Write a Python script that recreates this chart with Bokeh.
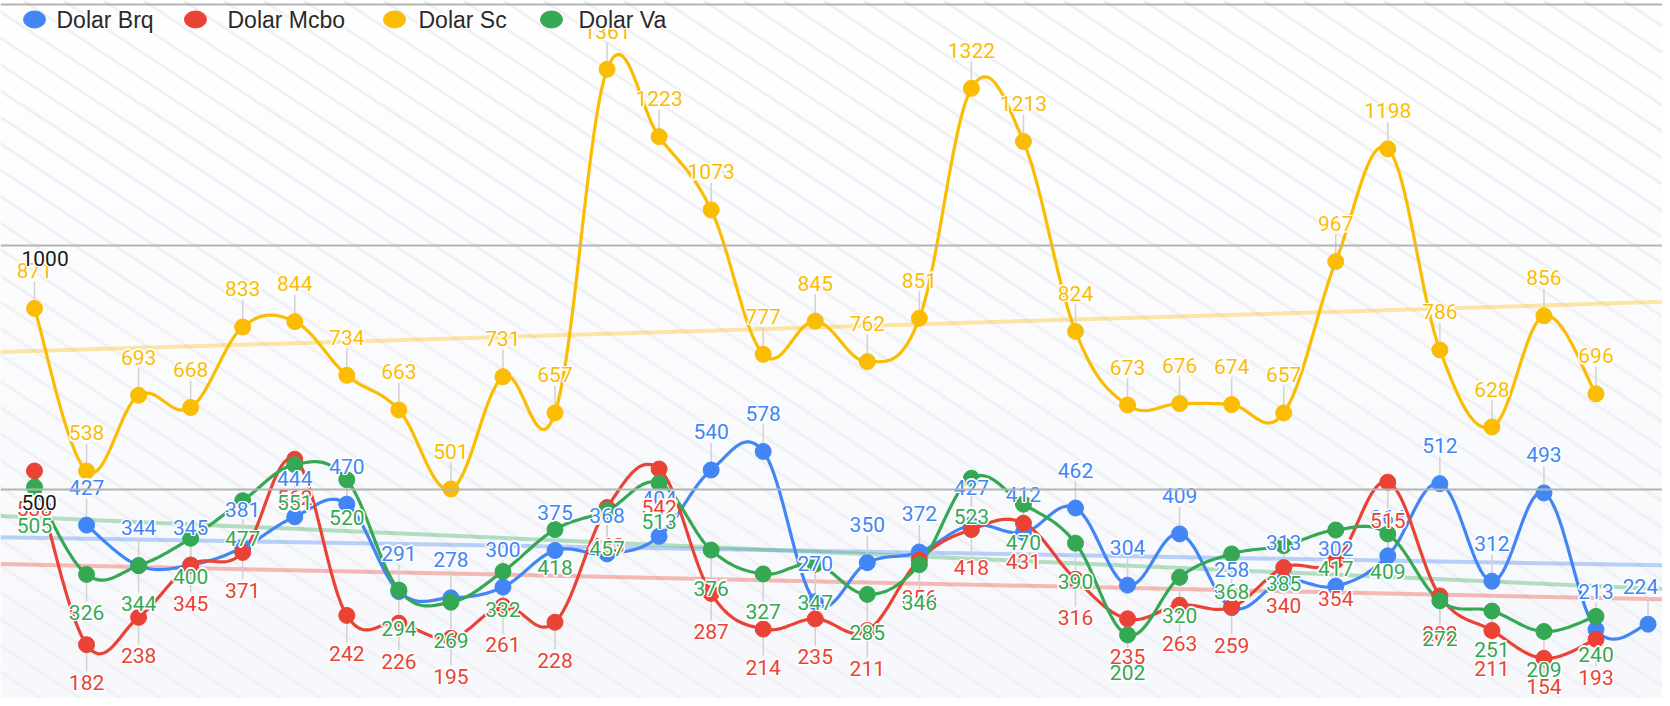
import numpy as np
from bokeh.plotting import figure
from bokeh.models import Range1d, Span
from bokeh.core.properties import value
from bokeh.embed import file_html
from bokeh.resources import INLINE

# ---------------- data ----------------
series_names = ["Dolar Brq", "Dolar Mcbo", "Dolar Sc", "Dolar Va"]
colors = ["#4285F4", "#EA4335", "#FBBC04", "#34A853"]

brq_x = list(range(1, 32))
brq = [427, 344, 345, 381, 444, 470, 291, 278, 300, 375, 368, 404, 540, 578, 270,
       350, 372, 427, 412, 462, 304, 409, 258, 313, 302, 364, 512, 312, 493, 213, 224]

mcbo_x = list(range(0, 31))
mcbo = [538, 182, 238, 345, 371, 562, 242, 226, 195, 261, 228, 463, 542, 287, 214,
        235, 211, 356, 418, 431, 316, 235, 263, 259, 340, 354, 515, 282, 211, 154, 193]

sc_x = list(range(0, 31))
sc = [871, 538, 693, 668, 833, 844, 734, 663, 501, 731, 657, 1361, 1223, 1073, 777,
      845, 762, 851, 1322, 1213, 824, 673, 676, 674, 657, 967, 1198, 786, 628, 856, 696]

va_x = list(range(0, 31))
va = [505, 326, 344, 400, 477, 551, 520, 294, 269, 332, 418, 457, 513, 376, 327,
      347, 285, 346, 523, 470, 390, 202, 320, 368, 385, 417, 409, 272, 251, 209, 240]

grid_values = [500, 1000]
grid_labels = ["500", "1000"]

# label side: +1 above, -1 below
label_side = [1, -1, 1, -1]

# ---------------- figure ----------------
W, H = 1662, 698
STEP = 52.05           # px per category
X0 = -34.0 / STEP
X1 = X0 + W / STEP
ppy = 244.0 / 500.0     # px per value unit
Y1 = 1000 + 245.0 / ppy
Y0 = Y1 - H / ppy
ppx = STEP

p = figure(width=W, height=H, x_range=Range1d(X0, X1), y_range=Range1d(Y0, Y1),
           output_backend="svg", toolbar_location=None, min_border=0,
           x_axis_location=None, y_axis_location=None)
p.outline_line_color = None
p.background_fill_color = "white"
p.border_fill_color = "white"


def sx2x(s):
    return X0 + s / ppx


def sy2y(s):
    return Y1 - s / ppy


# subtle vertical gradient background
N = 64
img = np.zeros((N, 1), dtype=np.uint32)
v = img.view(dtype=np.uint8).reshape((N, 1, 4))
for i in range(N):
    t = i / (N - 1)  # 0 bottom -> 1 top
    v[i, 0, 0] = int(247 + 8 * t)
    v[i, 0, 1] = int(248 + 7 * t)
    v[i, 0, 2] = int(252 + 3 * t)
    v[i, 0, 3] = 255
p.image_rgba(image=[img], x=X0, y=Y0, dw=X1 - X0, dh=Y1 - Y0)

# diagonal stripes (decoration), defined in screen space
slope = 0.66
step = 40
sxs, sys_ = [], []
for c in range(-int(H / slope) - step, W + step, step):
    sxs.append([sx2x(c), sx2x(c + H / slope)])
    sys_.append([sy2y(0), sy2y(H)])
p.multi_line(xs=sxs, ys=sys_, line_color="#f0f1f5", line_width=3)

# gridlines
for gv in grid_values:
    p.add_layout(Span(location=gv, dimension="width", line_color="#b4b4b4", line_width=2))
p.add_layout(Span(location=sy2y(4), dimension="width", line_color="#b4b4b4", line_width=2))

all_x = [brq_x, mcbo_x, sc_x, va_x]
all_y = [brq, mcbo, sc, va]

# trend lines
for xs, ys, col in zip(all_x, all_y, colors):
    k, b = np.polyfit(np.array(xs, float), np.array(ys, float), 1)
    p.line(x=[X0, X1], y=[k * X0 + b, k * X1 + b], line_color=col, line_width=4, line_alpha=0.35)

LBL = 38   # px offset of label centre
LEAD = 27  # px leader length
BOTTOM_LIMIT = H - 12  # keep labels inside the picture
RIGHT_LIMIT = W - 22


def label_pos(yv, side):
    sy = (Y1 - yv) * ppy - side * LBL
    sy = min(sy, BOTTOM_LIMIT)
    return sy2y(sy)


def label_x(xv):
    sx = (xv - X0) * ppx
    return sx2x(min(sx, RIGHT_LIMIT))


# leader lines
for xs, ys, side in zip(all_x, all_y, label_side):
    y2 = []
    for yy in ys:
        ly = label_pos(yy, side)
        y2.append(ly - side * (LBL - LEAD) / ppy)
    p.segment(x0=xs, y0=ys, x1=xs, y1=y2, line_color="#d2d2d2", line_width=1.5)


def cardinal(xs, ys, c=0.55, n=20):
    """Sample a cardinal spline through the given points (rendering only)."""
    xs = np.asarray(xs, float)
    ys = np.asarray(ys, float)
    px_ = np.concatenate([[xs[0]], xs, [xs[-1]]])
    py_ = np.concatenate([[ys[0]], ys, [ys[-1]]])
    ox, oy = [], []
    for i in range(1, len(px_) - 2):
        m1x = c * (px_[i + 1] - px_[i - 1])
        m1y = c * (py_[i + 1] - py_[i - 1])
        m2x = c * (px_[i + 2] - px_[i])
        m2y = c * (py_[i + 2] - py_[i])
        for t in np.linspace(0, 1, n, endpoint=False):
            h1 = 2 * t**3 - 3 * t**2 + 1
            h2 = -2 * t**3 + 3 * t**2
            h3 = t**3 - 2 * t**2 + t
            h4 = t**3 - t**2
            ox.append(h1 * px_[i] + h2 * px_[i + 1] + h3 * m1x + h4 * m2x)
            oy.append(h1 * py_[i] + h2 * py_[i + 1] + h3 * m1y + h4 * m2y)
    ox.append(xs[-1])
    oy.append(ys[-1])
    return ox, oy


for xs, ys, col in zip(all_x, all_y, colors):
    cx, cy = cardinal(xs, ys)
    p.line(x=cx, y=cy, line_color=col, line_width=3.2, line_join="round")

for xs, ys, col in zip(all_x, all_y, colors):
    p.scatter(x=xs, y=ys, size=16, fill_color=col, line_color=col)

LFONT = value("Roboto")
HALO = [(-1.5, 0), (1.5, 0), (0, -1.5), (0, 1.5), (-1.1, -1.1), (1.1, 1.1), (-1.1, 1.1), (1.1, -1.1)]


def halo_text(x, y, text, color, size, align="center", baseline="middle", font=LFONT):
    for dx, dy in HALO:
        p.text(x=x, y=y, text=text, text_color="white", text_font=font, text_font_size=size,
               text_align=align, text_baseline=baseline, x_offset=dx, y_offset=dy)
    p.text(x=x, y=y, text=text, text_color=color, text_font=font, text_font_size=size,
           text_align=align, text_baseline=baseline)


for xs, ys, col, side in zip(all_x, all_y, colors, label_side):
    ly = [label_pos(yy, side) for yy in ys]
    lx = [label_x(xx) for xx in xs]
    halo_text(lx, ly, [str(v_) for v_ in ys], col, "21px")

# value axis labels inside plot
halo_text([sx2x(21)] * len(grid_values), [g - 5 / ppy for g in grid_values], grid_labels,
          "#1a1a1a", "21px", align="left", baseline="top")

# legend
leg_sx = [34, 195, 394, 551]
leg_tx = [56, 227, 418, 578]
leg_y = sy2y(19)
p.ellipse(x=[sx2x(s) for s in leg_sx], y=[leg_y] * 4, width=22, height=17,
          width_units="screen", height_units="screen", fill_color=colors, line_color=colors)
halo_text([sx2x(s) for s in leg_tx], [leg_y] * 4, series_names, "#2a2a2a", "23px",
          align="left", baseline="middle", font=value("Liberation Sans"))

open("out.html", "w").write(file_html(p, INLINE))
